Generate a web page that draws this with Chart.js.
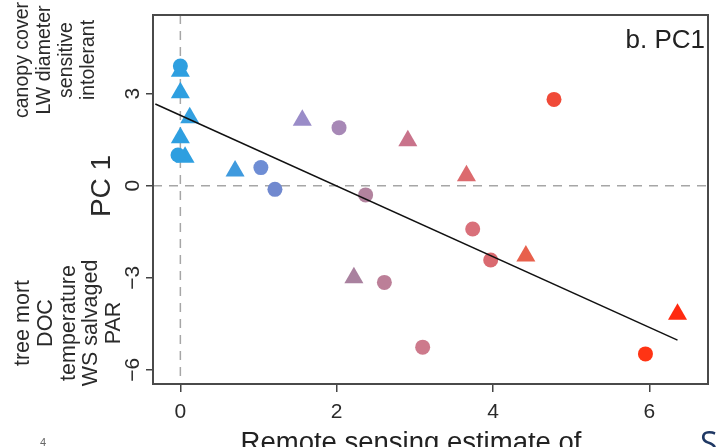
<!DOCTYPE html>
<html>
<head>
<meta charset="utf-8">
<script src="https://cdn.jsdelivr.net/npm/chart.js@4/dist/chart.umd.min.js"></script>
<style>
  html, body { margin: 0; padding: 0; background: #fff; }
  #wrap { width: 719px; height: 447px; }
</style>
</head>
<body>
<div id="wrap"><canvas id="pcChart" width="719" height="447"></canvas></div>
<script>
// Data
const circleX = [0.00, -0.03, 1.03, 1.21, 2.03, 2.37, 2.61, 3.10, 3.74, 3.97, 4.78, 5.95];
const circleY = [3.90, 1.00, 0.59, -0.12, 1.89, -0.30, -3.15, -5.26, -1.41, -2.42, 2.81, -5.48];
const circleColors = ['#2e9fe0', '#2e9fe0', '#6e8dd4', '#7189cf', '#a788b6', '#b2839e', '#bc7f98',
    '#cd7a8c', '#d9707a', '#da6a70', '#f04a38', '#ff3414'];

const triangleX = [0.00, 0.00, 0.12, 0.00, 0.06, 0.70, 1.56, 2.22, 2.91, 3.66, 4.42, 6.36];
const triangleY = [3.73, 3.03, 2.21, 1.56, 0.93, 0.48, 2.13, -3.00, 1.46, 0.32, -2.29, -4.19];
const triangleColors = ['#2e9fe0', '#2e9fe0', '#33a0e0', '#2e9fe0', '#2e9fe0', '#3f9ade', '#9a8cc8',
    '#a9819f', '#c9738b', '#dc6a6e', '#e8604c', '#ff2a10'];

// Fitted line end points
const fitX = [-0.32, 6.36];
const fitY = [2.66, -5.03];

const xTicks = [0, 2, 4, 6];
const yTicks = [-6, -3, 0, 3];

const topLabels = ['canopy cover', 'LW diameter', 'sensitive', 'intolerant'];
const bottomLabels = ['tree mort', 'DOC', 'temperature', 'WS salvaged', 'PAR'];

const FONT = '"Liberation Sans", Arial, Helvetica, sans-serif';

function toPoints(xs, ys) {
    return xs.map((x, i) => ({ x: x, y: ys[i] }));
}

function rotatedText(ctx, s, x, y) {
    ctx.save();
    ctx.translate(x, y);
    ctx.rotate(-Math.PI / 2);
    ctx.fillText(s, 0, 0);
    ctx.restore();
}

// Frame, dashed zero lines, rotated labels
const decorations = {
    id: 'decorations',
    beforeDatasetsDraw(chart) {
        const { ctx, chartArea, scales } = chart;
        const x0 = scales.x.getPixelForValue(0);
        const y0 = scales.y.getPixelForValue(0);
        ctx.save();
        ctx.strokeStyle = '#a6a6a6';
        ctx.lineWidth = 1.5;
        ctx.setLineDash([9, 7]);
        ctx.beginPath();
        ctx.moveTo(x0, chartArea.top);
        ctx.lineTo(x0, chartArea.bottom);
        ctx.moveTo(chartArea.left, y0);
        ctx.lineTo(chartArea.right, y0);
        ctx.stroke();
        ctx.restore();
    },
    afterDraw(chart) {
        const { ctx, chartArea, scales } = chart;
        ctx.save();
        ctx.strokeStyle = '#4a4a4a';
        ctx.lineWidth = 2;
        ctx.strokeRect(chartArea.left, chartArea.top,
            chartArea.right - chartArea.left, chartArea.bottom - chartArea.top);

        // y tick labels, rotated like R
        ctx.fillStyle = '#2a2a2a';
        ctx.font = '21px ' + FONT;
        ctx.textAlign = 'center';
        ctx.textBaseline = 'middle';
        scales.y.ticks.forEach(t => {
            const py = scales.y.getPixelForValue(t.value);
            rotatedText(ctx, String(t.value).replace('-', '\u2212'), 133, py);
        });

        // axis title
        ctx.font = '28px ' + FONT;
        rotatedText(ctx, 'PC 1', 102, 186);

        // side labels
        ctx.font = '19.5px ' + FONT;
        const topX = [23, 45, 67, 89];
        topLabels.forEach((s, i) => rotatedText(ctx, s, topX[i], 60));

        ctx.font = '21.5px ' + FONT;
        const botX = [23, 46, 69, 91, 114];
        bottomLabels.forEach((s, i) => rotatedText(ctx, s, botX[i], 323));

        // panel label
        ctx.font = '26px ' + FONT;
        ctx.textAlign = 'right';
        ctx.textBaseline = 'alphabetic';
        ctx.fillStyle = '#222';
        ctx.fillText('b. PC1', 705, 48);

        // x title, cut by the bottom edge
        ctx.font = '27.5px ' + FONT;
        ctx.textAlign = 'center';
        ctx.fillText('Remote sensing estimate of', 411, 451);

        // stray bits at the bottom edge
        ctx.fillStyle = '#1f3864';
        ctx.font = '32px "Open Sans", sans-serif';
        ctx.textAlign = 'left';
        ctx.fillText('S', 700, 455);
        ctx.fillStyle = '#666';
        ctx.font = '11px ' + FONT;
        ctx.fillText('4', 40, 446);
        ctx.restore();
    }
};

const ctx = document.getElementById('pcChart').getContext('2d');
new Chart(ctx, {
    type: 'scatter',
    data: {
        datasets: [{
            type: 'line',
            label: 'fit',
            data: toPoints(fitX, fitY),
            borderColor: '#111',
            borderWidth: 1.5,
            pointRadius: 0,
            fill: false,
            order: 0
        }, {
            label: 'circles',
            data: toPoints(circleX, circleY),
            pointStyle: 'circle',
            pointRadius: 7.5,
            backgroundColor: circleColors,
            borderColor: circleColors,
            borderWidth: 0,
            order: 1
        }, {
            label: 'triangles',
            data: toPoints(triangleX, triangleY),
            pointStyle: 'triangle',
            pointRadius: 11,
            backgroundColor: triangleColors,
            borderColor: triangleColors,
            borderWidth: 0,
            order: 2
        }]
    },
    options: {
        responsive: false,
        animation: false,
        layout: { padding: { left: 0, top: 15, right: 4, bottom: 0 } },
        plugins: {
            legend: { display: false },
            tooltip: { enabled: false }
        },
        scales: {
            x: {
                type: 'linear',
                min: -0.35,
                max: 6.75,
                afterBuildTicks: s => { s.ticks = xTicks.map(v => ({ value: v })); },
                afterFit: s => { s.height = 63; },
                border: { display: false },
                grid: {
                    drawOnChartArea: false,
                    drawTicks: true,
                    tickLength: 8,
                    color: '#444',
                    lineWidth: 1.5
                },
                ticks: {
                    font: { size: 21, family: FONT },
                    color: '#2a2a2a',
                    padding: 8,
                    maxRotation: 0
                }
            },
            y: {
                type: 'linear',
                min: -6.46,
                max: 5.56,
                afterBuildTicks: s => { s.ticks = yTicks.map(v => ({ value: v })); },
                afterFit: s => { s.width = 153; },
                border: { display: false },
                grid: {
                    drawOnChartArea: false,
                    drawTicks: true,
                    tickLength: 7,
                    color: '#444',
                    lineWidth: 1.5
                },
                ticks: {
                    font: { size: 20, family: FONT },
                    color: 'rgba(0,0,0,0)'
                }
            }
        }
    },
    plugins: [decorations]
});
</script>
</body>
</html>
